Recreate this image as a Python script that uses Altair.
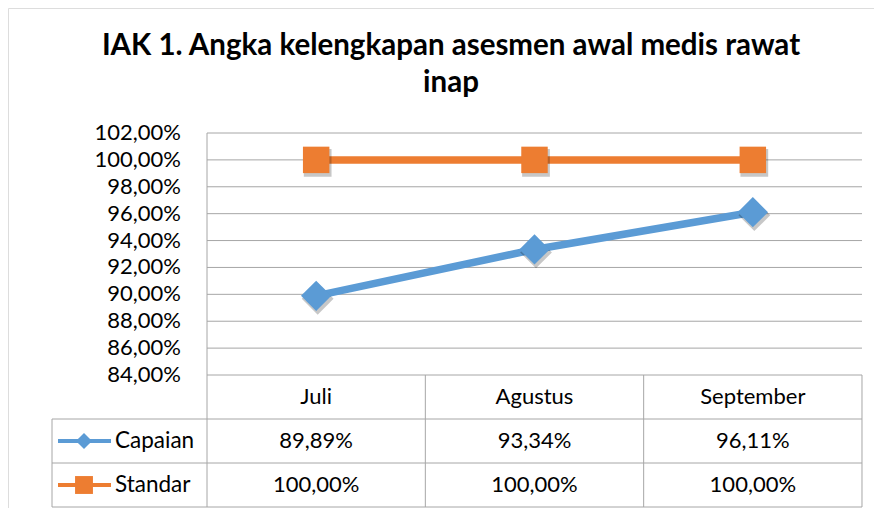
import altair as alt
import pandas as pd

# ---------------- data ----------------
months = ["Juli", "Agustus", "September"]
capaian = [89.89, 93.34, 96.11]
standar = [100.00, 100.00, 100.00]
series_names = ["Capaian", "Standar"]
y_ticks = [84, 86, 88, 90, 92, 94, 96, 98, 100, 102]
title_lines = ["IAK 1. Angka kelengkapan asesmen awal medis rawat", "inap"]

# ---------------- style ----------------
BLUE = "#5B9BD5"
ORANGE = "#ED7D31"
GRID = "#A6A6A6"
FRAME = "#8E8E8E"
TEXT = "#000000"
FONT = "Lato"
FS = 22

# ---------------- layout (pixels, relative to view) ----------------
W, H = 866, 500
PLOT_X0 = 199          # left edge of plot area / first table column
COL_W = 218.33         # width of one month column
LEG_W = 155            # width of legend column in the table
PLOT_Y_TOP = 125       # pixel of top tick
PLOT_Y_BOT = 367       # pixel of bottom tick (= table top)
ROW_H = (H - 1 - PLOT_Y_BOT) / 3
LABEL_PAD = 26

n = len(months)
x_dom = [-PLOT_X0 / COL_W, (W - PLOT_X0) / COL_W]
pct_per_px = (y_ticks[-1] - y_ticks[0]) / (PLOT_Y_BOT - PLOT_Y_TOP)
y_dom = [y_ticks[0] - (H - PLOT_Y_BOT) * pct_per_px, y_ticks[-1] + PLOT_Y_TOP * pct_per_px]
row_dom = [-PLOT_Y_BOT / ROW_H, (H - PLOT_Y_BOT) / ROW_H]
LEG_L = -LEG_W / COL_W

xs = alt.Scale(domain=x_dom, nice=False, zero=False)
ys = alt.Scale(domain=y_dom, nice=False, zero=False)
rs = alt.Scale(domain=row_dom, nice=False, zero=False, reverse=True)
colors = {"Capaian": BLUE, "Standar": ORANGE}
shapes = {"Capaian": "diamond", "Standar": "square"}
plot_sizes = {"Capaian": 920, "Standar": 700}
key_sizes = {"Capaian": 260, "Standar": 320}
values = {"Capaian": capaian, "Standar": standar}


def fmt(v):
    return f"{v:.2f}".replace(".", ",") + "%"


# ---------------- plot area ----------------
grid_df = pd.DataFrame({"v": y_ticks, "x0": 0.0, "x1": float(n)})
grid = alt.Chart(grid_df).mark_rule(color=GRID, strokeWidth=1).encode(
    x=alt.X("x0:Q", scale=xs, axis=alt.Axis(orient="top", labels=False, ticks=False, grid=False,
                                           title=None, domainColor=FRAME, domainWidth=2)),
    x2="x1:Q",
    y=alt.Y("v:Q", scale=ys, axis=None),
)

tick_df = pd.DataFrame({"v": y_ticks, "label": [fmt(v) for v in y_ticks],
                        "xl": -LABEL_PAD / COL_W})
tick_labels = alt.Chart(tick_df).mark_text(font=FONT, fontSize=FS, color=TEXT, align="right",
                                           baseline="middle").encode(
    x=alt.X("xl:Q", scale=xs, axis=None),
    y=alt.Y("v:Q", scale=ys, axis=None),
    text="label:N",
)

border_df = pd.DataFrame({"x0": [0.0], "y0": [y_ticks[0]], "y1": [y_ticks[-1]]})
border = alt.Chart(border_df).mark_rule(color=GRID, strokeWidth=1).encode(
    x=alt.X("x0:Q", scale=xs, axis=None),
    y=alt.Y("y0:Q", scale=ys, axis=None),
    y2="y1:Q",
)

top_layers = [grid, border, tick_labels]
for s in series_names:
    df = pd.DataFrame({"pos": [i + 0.5 for i in range(n)], "value": values[s]})
    top_layers.append(alt.Chart(df).mark_line(color=colors[s], strokeWidth=7.5).encode(
        x=alt.X("pos:Q", scale=xs, axis=None),
        y=alt.Y("value:Q", scale=ys, axis=None),
    ))
for s in series_names:
    df = pd.DataFrame({"pos": [i + 0.5 for i in range(n)], "value": values[s]})
    top_layers.append(alt.Chart(df).mark_point(
        shape=shapes[s], filled=True, opacity=0.22, color="#000000", size=plot_sizes[s] * 1.1,
        xOffset=1.5, yOffset=3).encode(
        x=alt.X("pos:Q", scale=xs, axis=None),
        y=alt.Y("value:Q", scale=ys, axis=None),
    ))
    top_layers.append(alt.Chart(df).mark_point(
        shape=shapes[s], filled=True, opacity=1, color=colors[s], size=plot_sizes[s]).encode(
        x=alt.X("pos:Q", scale=xs, axis=None),
        y=alt.Y("value:Q", scale=ys, axis=None),
    ))
top = alt.layer(*top_layers)

# ---------------- data table ----------------
segs = []
for r in [1, 2, 3]:
    segs.append({"x": LEG_L, "x2": float(n), "y": r, "y2": r})
for c in range(n + 1):
    segs.append({"x": float(c), "x2": float(c), "y": 0, "y2": 3})
segs.append({"x": LEG_L, "x2": LEG_L, "y": 1, "y2": 3})
seg_df = pd.DataFrame(segs)

table_rules = alt.Chart(seg_df).mark_rule(color=GRID, strokeWidth=1).encode(
    x=alt.X("x:Q", scale=xs, axis=None),
    x2="x2:Q",
    y=alt.Y("y:Q", scale=rs, axis=alt.Axis(orient="left", labels=False, ticks=False, grid=False,
                                           title=None, domainColor=FRAME, domainWidth=2)),
    y2="y2:Q",
)

cells = []
for i, m in enumerate(months):
    cells.append({"x": i + 0.5, "y": 0.5, "label": m})
    cells.append({"x": i + 0.5, "y": 1.5, "label": fmt(capaian[i])})
    cells.append({"x": i + 0.5, "y": 2.5, "label": fmt(standar[i])})
cell_df = pd.DataFrame(cells)
table_text = alt.Chart(cell_df).mark_text(font=FONT, fontSize=FS, color=TEXT, baseline="middle").encode(
    x=alt.X("x:Q", scale=xs, axis=None),
    y=alt.Y("y:Q", scale=rs, axis=None),
    text="label:N",
)

table_layers = [table_rules, table_text]
KEY_A = LEG_L + 6 / COL_W
KEY_B = LEG_L + 59 / COL_W
KEY_M = LEG_L + 32 / COL_W
KEY_T = LEG_L + 63 / COL_W
for j, s in enumerate(series_names):
    row = 1.5 + j
    kdf = pd.DataFrame({"a": [KEY_A], "b": [KEY_B], "m": [KEY_M], "t": [KEY_T], "y": [row], "label": [s]})
    table_layers.append(alt.Chart(kdf).mark_rule(color=colors[s], strokeWidth=4).encode(
        x=alt.X("a:Q", scale=xs, axis=None), x2="b:Q",
        y=alt.Y("y:Q", scale=rs, axis=None)))
    table_layers.append(alt.Chart(kdf).mark_point(shape=shapes[s], filled=True, opacity=1,
                                                  color=colors[s], size=key_sizes[s]).encode(
        x=alt.X("m:Q", scale=xs, axis=None),
        y=alt.Y("y:Q", scale=rs, axis=None)))
    table_layers.append(alt.Chart(kdf).mark_text(font=FONT, fontSize=FS + 0.5, color=TEXT, align="left",
                                                 baseline="middle").encode(
        x=alt.X("t:Q", scale=xs, axis=None),
        y=alt.Y("y:Q", scale=rs, axis=None),
        text="label:N"))
table = alt.layer(*table_layers)

chart = alt.layer(top, table).resolve_scale(y="independent").properties(
    width=W, height=H, padding=0,
    title=alt.TitleParams(text=title_lines, font=FONT, fontSize=29.5, fontWeight="bold", color=TEXT,
                          anchor="middle", offset=-90, dx=10, lineHeight=37),
).configure_view(stroke=None).configure(background="white")

chart.save("out.html", embed_options={"renderer": "svg", "actions": False})
